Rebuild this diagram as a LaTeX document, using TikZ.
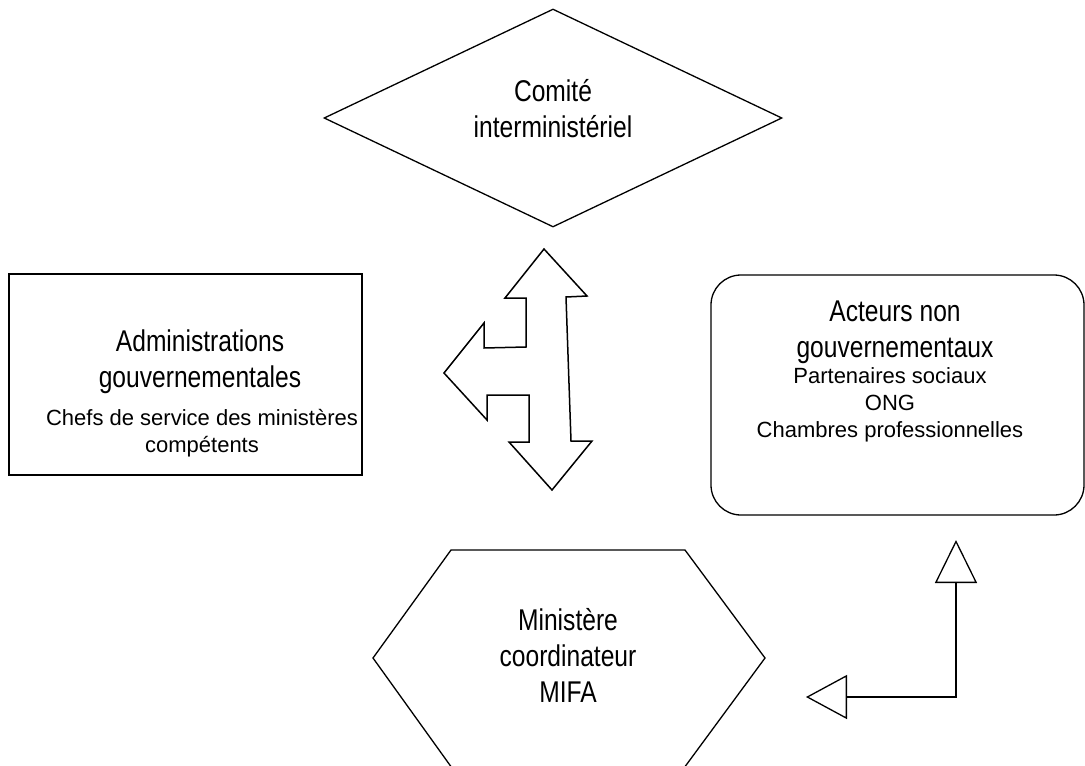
\documentclass[tikz,border=0pt]{standalone}
\usepackage{fontspec}
\setmainfont{Liberation Sans}[FakeStretch=0.82]
\newfontfamily\plainsans{Liberation Sans}
\usetikzlibrary{positioning,arrows.meta,shapes.geometric}
\newcommand{\bigtxt}{\fontsize{30}{36}\selectfont}
\newcommand{\smalltxt}{\plainsans\fontsize{22}{27}\selectfont}

\begin{document}
\begin{tikzpicture}[x=1pt,y=-1pt,
    shapeline/.style={draw,line width=1.3pt,inner sep=0pt},
    bigtext/.style={align=center,font=\bigtxt,anchor=base,inner sep=0pt},
    smalltext/.style={align=center,font=\smalltxt,anchor=base,inner sep=0pt},
    link/.style={line width=2pt,
      {Triangle[open,length=41pt,width=44pt,line width=1.3pt]}-{Triangle[open,length=43pt,width=42pt,line width=1.3pt]}}]
  \useasboundingbox (0,0) rectangle (1085,766);
  % the four bodies
  \node[shapeline,diamond,minimum width=458pt,minimum height=218pt] (comite) at (553,118) {};
  \node[shapeline,rectangle,minimum width=353pt,minimum height=201pt] (admin) at (185.5,374.5) {};
  \node[shapeline,rectangle,rounded corners=30pt,minimum width=373pt,minimum height=240pt] (acteurs) at (897.5,395) {};
  \draw[line width=1.3pt] (451,550) -- (685,550) -- (765,658) -- (684,768) -- (452,768) -- (373,658) -- cycle;
  % texts (base = last line)
  \node[bigtext] (comitetxt) at (553,137) {Comité\\interministériel};
  \node[bigtext] (admintxt) at (200,387) {Administrations\\gouvernementales};
  \node[smalltext] (adminsub) at (202,452) {Chefs de service des ministères\\compétents};
  \node[bigtext] (acteurstxt) at (895,357) {Acteurs non\\gouvernementaux};
  \node[smalltext] (acteurssub) at (890,437) {Partenaires sociaux\\ONG\\Chambres professionnelles};
  \node[bigtext] (ministere) at (568,702) {Ministère\\coordinateur\\MIFA};
  % three-way block arrow
  \draw[line width=1.5pt,line join=miter]
    (544,249) -- (587,296) -- (566,297) -- (571,441) -- (592,441) -- (552,490)
    -- (509,442) -- (529,442) -- (529,395) -- (487,395) -- (487,420) -- (444,373)
    -- (484,323) -- (484,348) -- (526,347) -- (526,298) -- (505,298) -- cycle;
  % elbow link
  \coordinate (elbowstart) at (806,697);
  \coordinate (elbowend) at (956,540);
  \draw[link] (elbowstart) -| (elbowend);
\end{tikzpicture}
\end{document}
